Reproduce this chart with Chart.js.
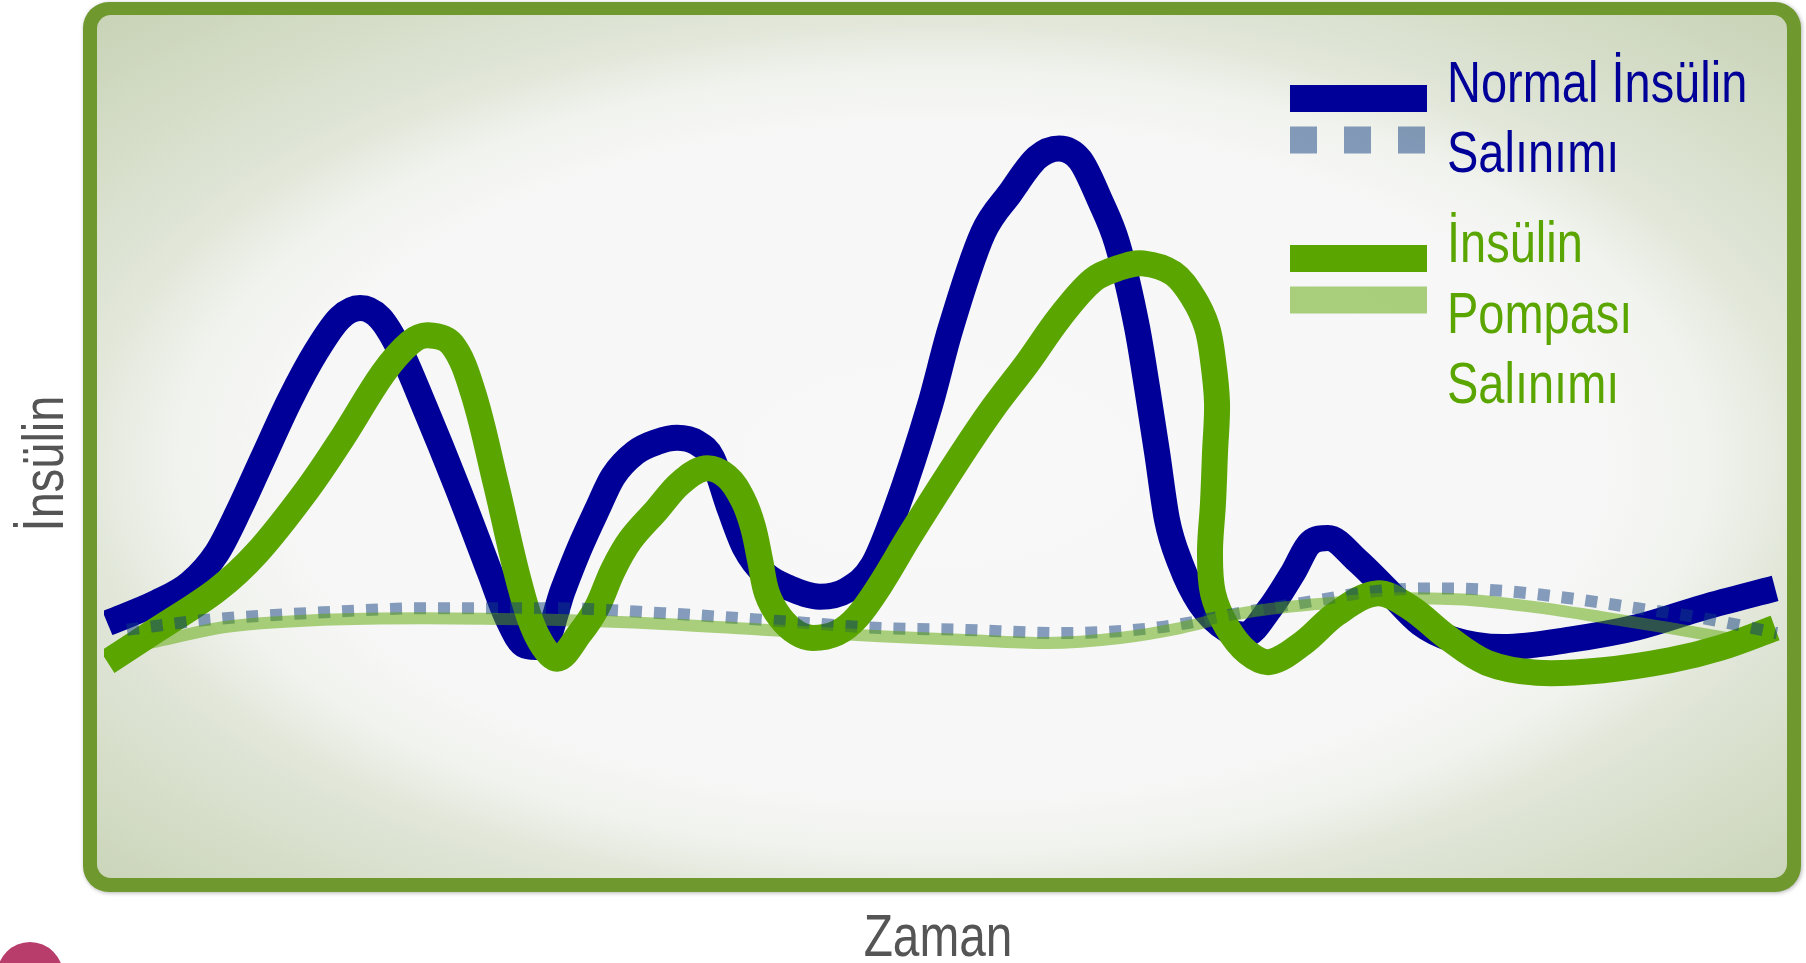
<!DOCTYPE html>
<html>
<head>
<meta charset="utf-8">
<script src="https://cdn.jsdelivr.net/npm/chart.js@4"></script>
<style>
html,body{margin:0;padding:0;background:#fff;overflow:hidden}
canvas{display:block}
</style>
</head>
<body>
<canvas id="c" width="1806" height="963" style="width:1806px;height:963px"></canvas>
<script>
// ---------- DATA (time 0-100, insulin level 0-100) ----------
const normalTime = [0.2,3.16,5.12,6.73,8.10,9.48,11.08,12.69,14.06,15.26,16.45,17.64,19.01,21.04,23.00,24.02,25.09,26.10,27.35,28.37,29.38,30.33,31.65,32.95,34.15,35.34,36.23,37.31,38.20,39.39,40.88,42.67,44.28,45.83,47.14,49.23,50.42,52.39,54.00,55.61,56.92,58.17,59.36,60.37,61.56,62.16,62.76,63.35,64.13,65.32,66.93,68.00,69.49,70.86,71.88,72.95,74.67,76.47,78.43,80.40,83.38,87.37,91.37,95.30,99.59];
const normalInsulin = [30.7,33.2,35.5,39.2,44.6,50.7,57.7,63.7,67.6,68.8,67.6,63.7,57.3,47.2,36.8,31.4,28.0,27.8,34.7,39.9,44.4,48.4,51.3,52.6,53.1,52.5,50.7,44.4,39.8,36.6,34.9,33.9,34.7,37.7,44.1,57.1,66.1,77.9,82.7,87.0,88.1,86.7,81.8,76.7,66.5,59.2,51.3,43.2,38.0,33.1,29.9,29.3,32.5,36.8,40.4,41.0,38.3,34.7,30.7,28.7,27.8,28.7,30.2,32.6,34.9];

const normalBasalTime = [1.37,6.14,13.05,19.01,26.58,33.31,41.30,46.25,51.01,56.97,62.93,67.88,72.47,75.45,79.44,83.38,87.37,91.37,95.30,99.70];
const normalBasal = [29.9,31.1,32.0,32.5,32.5,31.9,30.8,30.1,29.9,29.5,30.2,32.0,33.5,34.5,34.9,34.6,33.7,32.5,31.3,29.5];

const pumpTime = [0.2,3.16,6.73,9.12,12.10,14.24,16.63,18.24,19.31,20.74,21.99,23.36,24.73,25.75,27.00,28.37,29.38,30.33,31.35,32.95,34.33,35.82,37.13,38.08,38.68,39.10,39.51,40.29,41.30,42.25,43.68,44.87,46.25,48.03,51.01,52.98,55.01,56.97,58.94,60.55,61.92,63.71,64.90,65.73,66.09,66.33,66.21,66.09,65.91,66.09,66.93,68.12,69.49,71.46,73.48,75.86,77.83,80.04,82.42,85.40,89.33,93.33,96.31,99.59];
const pumpInsulin = [26.0,29.9,34.7,39.2,46.8,53.2,60.9,64.6,65.5,64.4,58.6,47.5,35.7,29.4,26.4,29.5,32.6,37.1,40.7,44.4,47.6,49.4,48.4,45.6,42.3,38.3,34.3,31.4,29.5,28.9,29.5,31.4,35.3,41.3,50.8,56.7,62.1,67.7,72.2,73.7,74.2,73.0,70.1,66.5,62.5,57.3,51.3,45.2,39.2,34.3,30.2,27.2,26.0,28.3,31.9,34.3,32.6,29.0,25.9,24.7,25.0,26.2,27.7,30.1];

const pumpBasalTime = [0.83,3.16,7.09,13.05,19.01,26.58,33.31,39.27,46.25,51.01,56.20,60.55,64.13,68.12,73.48,77.42,81.41,85.40,89.33,93.33,98.09];
const pumpBasal = [27.7,28.5,30.2,31.1,31.3,31.1,30.6,29.9,29.1,28.7,28.3,28.9,30.1,32.0,33.2,33.7,33.5,32.6,31.4,30.1,28.4];

const xAxisTitle = 'Zaman';
const yAxisTitle = 'İnsülin';
const legendNormalLines = ['Normal İnsülin', 'Salınımı'];
const legendPumpLines = ['İnsülin', 'Pompası', 'Salınımı'];

// ---------- STYLE ----------
const BLUE = '#000099';
const BLUE_DOT = 'rgba(17,64,128,0.5)';
const GREEN = '#5aa500';
const GREEN_LIGHT = 'rgba(90,165,0,0.5)';
const FONT = "'Liberation Sans','Arial',sans-serif";
const NARROW = 0.81; // condensed lettering

const pts = (xs, ys) => xs.map((x, i) => ({x, y: ys[i]}));

function narrowText(ctx, text, x, y, align, rot) {
  ctx.save();
  ctx.translate(x, y);
  if (rot) ctx.rotate(rot);
  ctx.scale(NARROW, 1);
  ctx.textAlign = align;
  ctx.textBaseline = 'alphabetic';
  ctx.fillText(text, 0, 0);
  ctx.restore();
}

const framePlugin = {
  id: 'frame',
  beforeDraw(chart) {
    const ctx = chart.ctx;
    const ca = chart.chartArea;
    const L = ca.left - 21, R = ca.right + 19, T = 2, B = ca.bottom + 15;
    ctx.save();
    ctx.fillStyle = '#ffffff';
    ctx.fillRect(0, 0, chart.width, chart.height);
    // pink decoration bottom-left
    ctx.fillStyle = '#b83d6b';
    ctx.beginPath();
    ctx.arc(30, 975, 33, 0, Math.PI * 2);
    ctx.fill();
    // border
    ctx.shadowColor = 'rgba(0,0,0,0.3)';
    ctx.shadowBlur = 4;
    ctx.shadowOffsetX = 1;
    ctx.shadowOffsetY = 1;
    ctx.fillStyle = '#6f982f';
    ctx.beginPath();
    ctx.roundRect(L, T, R - L, B - T, 26);
    ctx.fill();
    ctx.shadowColor = 'transparent';
    // inner gradient panel
    const iL = L + 14, iT = T + 13, iR = R - 14, iB = B - 14;
    ctx.beginPath();
    ctx.roundRect(iL, iT, iR - iL, iB - iT, 14);
    ctx.clip();
    const cx = (iL + iR) / 2, cy = (iT + iB) / 2 + 15;
    const a = (iR - iL) / 2 * 1.414, b = (iB - iT) / 2 * 1.414;
    ctx.translate(cx, cy);
    ctx.scale(1, b / a);
    const g = ctx.createRadialGradient(0, 0, 0, 0, 0, a);
    g.addColorStop(0, '#f8f8f8');
    g.addColorStop(0.55, '#f7f7f7');
    g.addColorStop(0.64, '#f1f3ee');
    g.addColorStop(0.72, '#e2e7da');
    g.addColorStop(0.86, '#d5ddc8');
    g.addColorStop(1, '#c9d4b8');
    ctx.fillStyle = g;
    ctx.fillRect(-a, -a, 2 * a, 2 * a);
    ctx.restore();
  }
};

const textPlugin = {
  id: 'texts',
  afterDraw(chart) {
    const ctx = chart.ctx;
    const ca = chart.chartArea;
    ctx.save();
    // axis titles
    ctx.fillStyle = '#555555';
    ctx.font = '59px ' + FONT;
    narrowText(ctx, xAxisTitle, (ca.left + ca.right) / 2 - 5, ca.bottom + 79, 'center');
    ctx.font = '58px ' + FONT;
    narrowText(ctx, yAxisTitle, ca.left - 41, (ca.top + ca.bottom) / 2, 'center', -Math.PI / 2);

    // legend
    const x0 = 1290, x1 = 1427, tx = 1447;
    ctx.lineCap = 'butt';
    ctx.lineWidth = 27;
    const bar = (y, color, dash) => {
      ctx.strokeStyle = color;
      ctx.setLineDash(dash || []);
      ctx.beginPath();
      ctx.moveTo(x0, y);
      ctx.lineTo(x1, y);
      ctx.stroke();
    };
    bar(98.5, BLUE);
    bar(140, BLUE_DOT, [27, 27]);
    bar(258.5, GREEN);
    bar(300, GREEN_LIGHT);
    ctx.setLineDash([]);
    ctx.font = '58px ' + FONT;
    ctx.fillStyle = BLUE;
    legendNormalLines.forEach((t, i) => narrowText(ctx, t, tx, 102 + i * 70, 'left'));
    ctx.fillStyle = GREEN;
    legendPumpLines.forEach((t, i) => narrowText(ctx, t, tx, 262 + i * 70.5, 'left'));
    ctx.restore();
  }
};

new Chart(document.getElementById('c'), {
  type: 'line',
  data: {
    datasets: [
      {
        label: 'İnsülin Pompası Salınımı (bazal)',
        data: pts(pumpBasalTime, pumpBasal),
        borderColor: GREEN_LIGHT, borderWidth: 12, cubicInterpolationMode: 'monotone',
        pointRadius: 0, fill: false, order: 0
      },
      {
        label: 'Normal İnsülin Salınımı (bazal)',
        data: pts(normalBasalTime, normalBasal),
        borderColor: BLUE_DOT, borderWidth: 12, borderDash: [12, 12], cubicInterpolationMode: 'monotone',
        pointRadius: 0, fill: false, order: 1
      },
      {
        label: 'İnsülin Pompası Salınımı',
        data: pts(pumpTime, pumpInsulin),
        borderColor: GREEN, borderWidth: 26, tension: 0.35,
        pointRadius: 0, fill: false, order: 2
      },
      {
        label: 'Normal İnsülin Salınımı',
        data: pts(normalTime, normalInsulin),
        borderColor: BLUE, borderWidth: 26, cubicInterpolationMode: 'monotone',
        pointRadius: 0, fill: false, order: 3
      }
    ]
  },
  options: {
    responsive: false,
    devicePixelRatio: 1,
    animation: false,
    events: [],
    layout: { padding: { left: 104, right: 24, top: 50, bottom: 86 } },
    plugins: { legend: { display: false }, tooltip: { enabled: false } },
    scales: {
      x: {
        type: 'linear', min: 0, max: 100, display: false
      },
      y: {
        type: 'linear', min: 0, max: 100, display: false
      }
    }
  },
  plugins: [framePlugin, textPlugin]
});
</script>
</body>
</html>
